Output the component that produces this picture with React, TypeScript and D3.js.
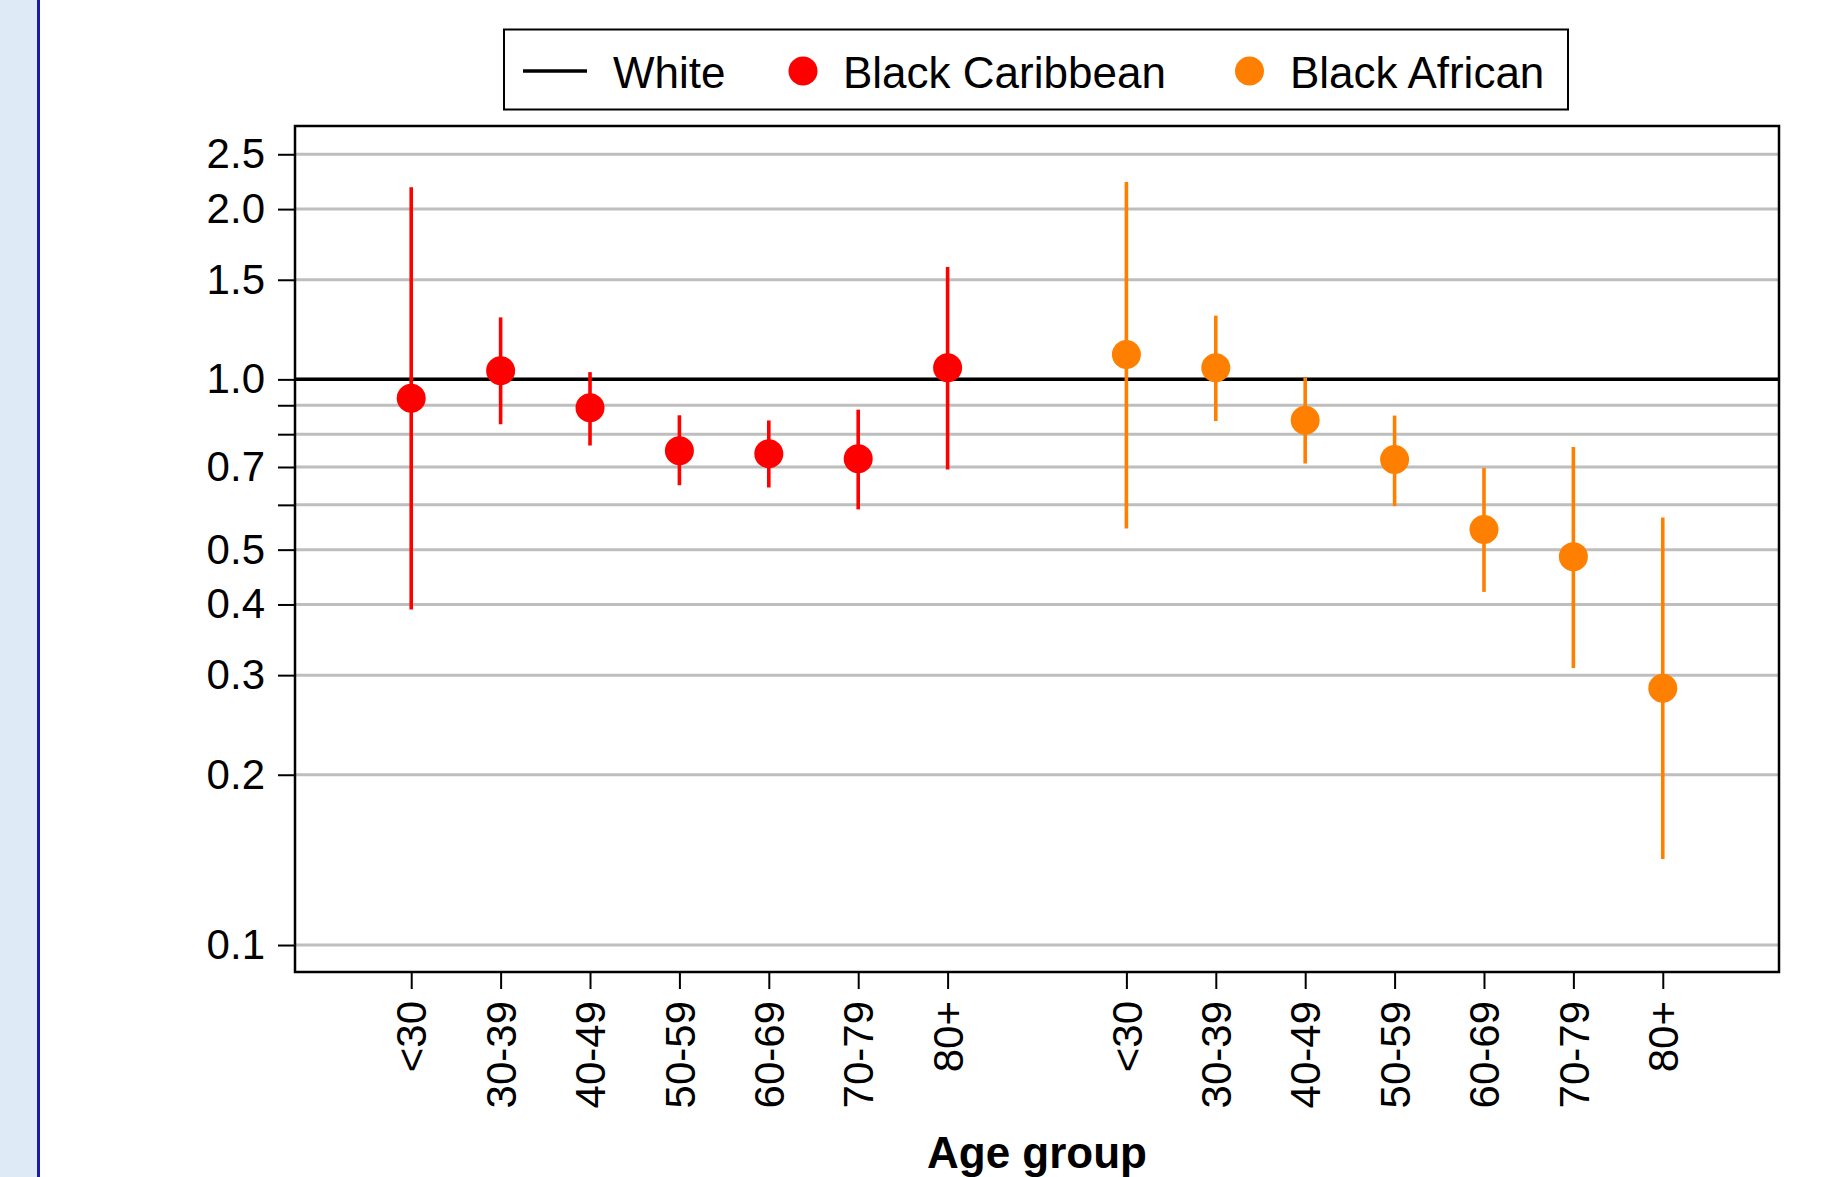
import * as d3 from "d3";
import { useEffect, useRef } from "react";

// age groups shown once per ethnic group
const ageGroups = ["<30", "30-39", "40-49", "50-59", "60-69", "70-79", "80+"];

// Black Caribbean: estimate and 95% CI
const caribEst = [0.926, 1.036, 0.891, 0.748, 0.739, 0.724, 1.048];
const caribLo = [0.392, 0.833, 0.764, 0.65, 0.644, 0.589, 0.693];
const caribHi = [2.185, 1.287, 1.03, 0.864, 0.846, 0.884, 1.58];

// Black African: estimate and 95% CI
const africanEst = [1.107, 1.048, 0.847, 0.722, 0.543, 0.486, 0.2845];
const africanLo = [0.545, 0.844, 0.71, 0.597, 0.421, 0.309, 0.142];
const africanHi = [2.234, 1.296, 1.007, 0.863, 0.697, 0.759, 0.57];

// reference line (White)
const refValue = 1.0;

const yTicks = [0.1, 0.2, 0.3, 0.4, 0.5, 0.6, 0.7, 0.8, 0.9, 1.0, 1.5, 2.0, 2.5];
const yLabelled = [0.1, 0.2, 0.3, 0.4, 0.5, 0.7, 1.0, 1.5, 2.0, 2.5];
const yDomain = [0.0896, 2.805];

const legendItems = ["White", "Black Caribbean", "Black African"];
const seriesColors = ["#000000", "#ff0000", "#ff8000"];

export default function App() {
  const svgRef = useRef(null);

  const W = 1826;
  const H = 1177;
  const plot = { left: 295, right: 1779, top: 126, bottom: 972 };
  const font = "'Liberation Sans', Arial, Helvetica, sans-serif";

  useEffect(() => {
    const svg = d3.select(svgRef.current);
    svg.selectAll("*").remove();

    // backgrounds: page strip on the left
    svg.append("rect").attr("x", 0).attr("y", 0).attr("width", W).attr("height", H).attr("fill", "#ffffff");
    svg.append("rect").attr("x", 0).attr("y", 0).attr("width", 38).attr("height", H).attr("fill", "#deebf6");
    svg.append("line")
      .attr("x1", 38.5).attr("x2", 38.5).attr("y1", 0).attr("y2", H)
      .attr("stroke", "#1c1ca8").attr("stroke-width", 3);

    const xScale = d3.scaleLinear().domain([-1.3, 15.3]).range([plot.left, plot.right]);
    const yScale = d3.scaleLog().domain(yDomain).range([plot.bottom, plot.top]);

    const g = svg.append("g");

    // gridlines
    g.selectAll(".grid")
      .data(yTicks)
      .enter()
      .append("line")
      .attr("x1", plot.left)
      .attr("x2", plot.right)
      .attr("y1", (d) => yScale(d))
      .attr("y2", (d) => yScale(d))
      .attr("stroke", "#bebebe")
      .attr("stroke-width", 3);

    // y axis ticks + labels
    const yAxis = g.append("g").attr("transform", `translate(${plot.left},0)`)
      .call(
        d3.axisLeft(yScale)
          .tickValues(yTicks)
          .tickSize(17)
          .tickPadding(13)
          .tickFormat((d) => (yLabelled.includes(+d) ? d3.format(".1f")(+d) : ""))
      );
    yAxis.select(".domain").remove();
    yAxis.selectAll("line").attr("stroke", "#000").attr("stroke-width", 2);
    yAxis.selectAll("text")
      .attr("font-family", font)
      .attr("font-size", 42)
      .attr("fill", "#000");

    // x axis ticks + rotated labels
    const xPos = [...ageGroups.map((_, i) => i), ...ageGroups.map((_, i) => i + 8)];
    const xLabels = [...ageGroups, ...ageGroups];
    const xAxis = g.append("g").attr("transform", `translate(0,${plot.bottom})`)
      .call(
        d3.axisBottom(xScale)
          .tickValues(xPos)
          .tickSize(17)
          .tickFormat((d, i) => xLabels[i])
      );
    xAxis.select(".domain").remove();
    xAxis.selectAll("line").attr("stroke", "#000").attr("stroke-width", 2);
    xAxis.selectAll("text")
      .attr("font-family", font)
      .attr("font-size", 42)
      .attr("fill", "#000")
      .attr("transform", "rotate(-90)")
      .attr("x", -29)
      .attr("y", 0)
      .attr("dy", "0.35em")
      .style("text-anchor", "end");

    // White reference line
    g.append("line")
      .attr("x1", plot.left)
      .attr("x2", plot.right)
      .attr("y1", yScale(refValue))
      .attr("y2", yScale(refValue))
      .attr("stroke", "#000")
      .attr("stroke-width", 3.5);

    const series = [
      { est: caribEst, lo: caribLo, hi: caribHi, offset: 0, color: seriesColors[1] },
      { est: africanEst, lo: africanLo, hi: africanHi, offset: 8, color: seriesColors[2] },
    ];

    series.forEach((s) => {
      const rows = s.est.map((v, i) => ({ i: i + s.offset, v, lo: s.lo[i], hi: s.hi[i] }));
      g.selectAll(null)
        .data(rows)
        .enter()
        .append("line")
        .attr("x1", (d) => xScale(d.i))
        .attr("x2", (d) => xScale(d.i))
        .attr("y1", (d) => yScale(d.lo))
        .attr("y2", (d) => yScale(d.hi))
        .attr("stroke", s.color)
        .attr("stroke-width", 3.6);
      g.selectAll(null)
        .data(rows)
        .enter()
        .append("circle")
        .attr("cx", (d) => xScale(d.i))
        .attr("cy", (d) => yScale(d.v))
        .attr("r", 14.5)
        .attr("fill", s.color);
    });

    // plot frame
    g.append("rect")
      .attr("x", plot.left)
      .attr("y", plot.top)
      .attr("width", plot.right - plot.left)
      .attr("height", plot.bottom - plot.top)
      .attr("fill", "none")
      .attr("stroke", "#000")
      .attr("stroke-width", 2.5);

    // x axis title
    svg.append("text")
      .attr("x", (plot.left + plot.right) / 2)
      .attr("y", 1168)
      .attr("text-anchor", "middle")
      .attr("font-family", font)
      .attr("font-weight", "bold")
      .attr("font-size", 44)
      .attr("fill", "#000")
      .text("Age group");

    // legend
    const legend = svg.append("g");
    legend.append("rect")
      .attr("x", 504).attr("y", 29.5)
      .attr("width", 1064).attr("height", 80)
      .attr("fill", "#fff").attr("stroke", "#000").attr("stroke-width", 2);

    const legendY = 71;
    legend.append("line")
      .attr("x1", 523).attr("x2", 587)
      .attr("y1", legendY).attr("y2", legendY)
      .attr("stroke", seriesColors[0]).attr("stroke-width", 3.5);
    legend.append("circle").attr("cx", 803).attr("cy", legendY).attr("r", 14.5).attr("fill", seriesColors[1]);
    legend.append("circle").attr("cx", 1249.5).attr("cy", legendY).attr("r", 14.5).attr("fill", seriesColors[2]);

    const textX = [613, 843, 1290];
    legendItems.forEach((t, i) => {
      legend.append("text")
        .attr("x", textX[i])
        .attr("y", 88)
        .attr("font-family", font)
        .attr("font-size", 44)
        .attr("fill", "#000")
        .text(t);
    });
  }, []);

  return (
    <svg
      ref={svgRef}
      width={W}
      height={H}
      style={{ position: "absolute", left: 0, top: 0, display: "block" }}
    ></svg>
  );
}
